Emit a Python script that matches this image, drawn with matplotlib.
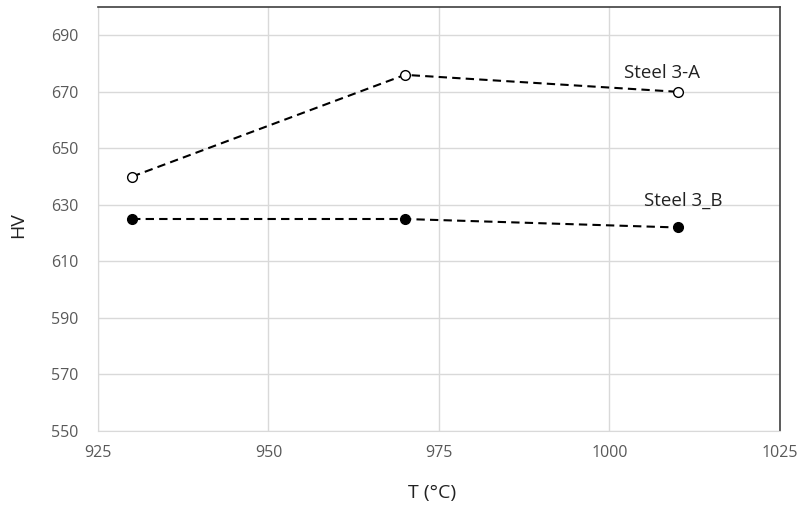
import matplotlib
matplotlib.use("Agg")
import matplotlib.pyplot as plt

temps = [930, 970, 1010]
steel_a = [640, 676, 670]
steel_b = [625, 625, 622]
x_ticks = [925, 950, 975, 1000, 1025]
y_ticks = [550, 570, 590, 610, 630, 650, 670, 690]

plt.rcParams["font.family"] = ["Open Sans", "DejaVu Sans"]

fig = plt.figure(figsize=(7.98, 5.08), dpi=100)
ax = fig.add_axes([0.1228, 0.1516, 0.8546, 0.8346])

ax.plot(temps, steel_a, color="black", linestyle=(0, (4, 2.5)), linewidth=1.5,
        marker="o", markersize=7, markerfacecolor="white", markeredgecolor="black",
        markeredgewidth=1.0, zorder=3)
ax.plot(temps, steel_b, color="black", linestyle=(0, (4, 2.5)), linewidth=1.5,
        marker="o", markersize=7, markerfacecolor="black", markeredgecolor="black",
        zorder=3)

ax.text(1007.7, 675, "Steel 3-A", fontsize=13.5, color="#222222", va="baseline", ha="center")
ax.text(1010.8, 629.5, "Steel 3_B", fontsize=13.5, color="#222222", va="baseline", ha="center")

ax.set_xlim(925, 1025)
ax.set_ylim(550, 700)
ax.set_xticks(x_ticks)
ax.set_yticks(y_ticks)
ax.grid(True, color="#d9d9d9", linewidth=1.0)
ax.set_axisbelow(True)
ax.tick_params(length=0, labelsize=11.5, labelcolor="#595959")
ax.tick_params(axis="y", pad=14)
ax.tick_params(axis="x", pad=10)

ax.spines["left"].set_color("#d9d9d9")
ax.spines["bottom"].set_color("#d9d9d9")
ax.spines["top"].set_color("#404040")
ax.spines["right"].set_color("#404040")
ax.spines["top"].set_linewidth(1.2)
ax.spines["right"].set_linewidth(1.2)

ax.set_xlabel("T (°C)", fontsize=14, color="#222222")
ax.set_ylabel("HV", fontsize=14, color="#222222")
ax.xaxis.set_label_coords(0.49, -0.125)
ax.yaxis.set_label_coords(-0.104, 0.486)

fig.savefig("out.png", dpi=100)
